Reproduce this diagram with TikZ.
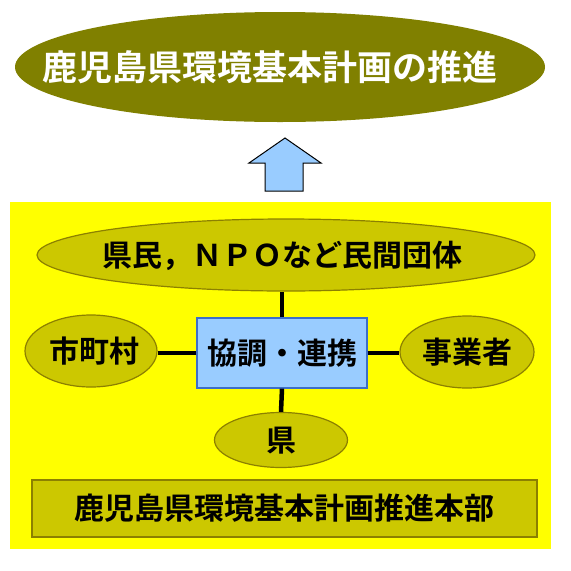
\documentclass[tikz,border=0pt]{standalone}
\usepackage{fontspec}
\usepackage{xcolor}
\newfontfamily\jpfont{Noto Sans CJK JP}[BoldFont={Noto Sans CJK JP Bold}]
\usetikzlibrary{shapes.geometric}
\definecolor{olivetop}{RGB}{128,128,0}
\definecolor{frameyellow}{RGB}{255,255,0}
\definecolor{ellfill}{RGB}{204,200,0}
\definecolor{elledge}{RGB}{140,128,0}
\definecolor{boxfill}{RGB}{153,204,255}
\definecolor{boxedge}{RGB}{60,110,200}
% label of no size, so that the shape keeps its minimum size
\newcommand{\nosize}[2][0pt]{\makebox[0pt]{\hspace*{#1}\raisebox{-0.38em}[0pt][0pt]{#2}}}
\tikzset{
	party/.style={ellipse, fill=ellfill, draw=elledge, line width=1.2pt,
			inner sep=0pt, font=\jpfont\bfseries\fontsize{30}{30}\selectfont},
	link/.style={line width=4.5pt}
}

\begin{document}
\begin{tikzpicture}[x=1pt, y=-1pt]
\useasboundingbox (0, 0) rectangle (571, 571);
% Goal
\node[ellipse, fill=olivetop, minimum width=530, minimum height=110, inner sep=0pt,
	text=white, font=\jpfont\bfseries\fontsize{35}{35}\selectfont] (goal) at (280, 67) {\nosize[-20pt]{鹿児島県環境基本計画の推進}};
% Block arrow
\draw[fill=boxfill, line width=1pt] (265, 191) -- (265, 163) -- (249, 163) -- (285, 138)
	-- (321, 163) -- (303, 163) -- (303, 191) -- cycle;
% Frame
\fill[frameyellow] (10, 202) rectangle (551, 549);
% Parties
\node[party, minimum width=498, minimum height=72] (npo) at (286, 255) {\nosize[-8pt]{県民，ＮＰＯなど民間団体}};
\node[party, minimum width=132, minimum height=72] (city) at (91, 351) {\nosize[6pt]{市町村}};
\node[party, minimum width=134, minimum height=72] (biz) at (467, 352) {\nosize{事業者}};
\node[party, minimum width=133, minimum height=55] (pref) at (281, 440) {\nosize{県}};
\node[rectangle, fill=boxfill, draw=boxedge, line width=1.2pt, minimum width=170, minimum height=70,
	inner sep=0pt, font=\jpfont\bfseries\fontsize{30}{30}\selectfont] (coop) at (282, 353) {\nosize{協調・連携}};
% Links
\draw[link] (coop.north) -- (coop.north |- npo.south);
\draw[link] (coop.south) -- (pref.north);
\draw[link] (coop.west) -- (coop.west -| city.east);
\draw[link] (coop.east) -- (coop.east -| biz.west);
% Headquarters
\node[rectangle, fill=ellfill, draw=elledge, line width=1.2pt, minimum width=505, minimum height=57,
	inner sep=0pt, font=\jpfont\bfseries\fontsize{30}{30}\selectfont] (hq) at (284.5, 508.5) {\nosize{鹿児島県環境基本計画推進本部}};
\end{tikzpicture}
\end{document}
